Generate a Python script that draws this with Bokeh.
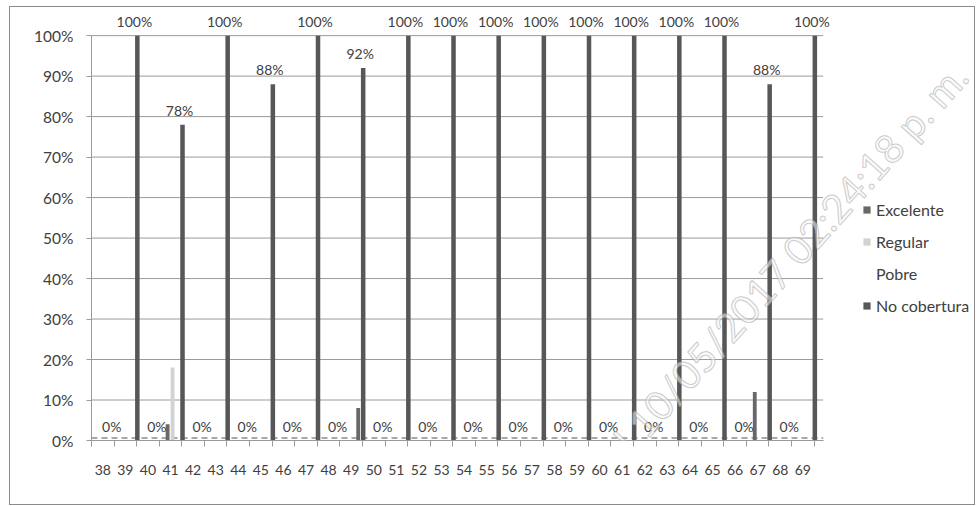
import numpy as np
from bokeh.plotting import figure
from bokeh.models import (ColumnDataSource, FixedTicker, PrintfTickFormatter, LabelSet,
                          Legend, LegendItem, Label, Range1d)
from bokeh.core.properties import value
from bokeh.embed import file_html
from bokeh.resources import INLINE

# ---------------- data ----------------
categories = [str(c) for c in range(38, 70)]
excelente = [0, 0, 0, 4, 0, 0, 0, 0, 0, 0, 0, 0, 0, 0, 0, 0,
             0, 0, 0, 0, 0, 0, 0, 0, 0, 0, 0, 0, 0, 12, 0, 0]
regular = [0, 0, 0, 18, 0, 0, 0, 0, 0, 0, 0, 0, 0, 0, 0, 0,
           0, 0, 0, 0, 0, 0, 0, 0, 0, 0, 0, 0, 0, 0, 0, 0]
pobre = [0, 0, 0, 0, 0, 0, 0, 0, 0, 0, 0, 8, 0, 0, 0, 0,
         0, 0, 0, 0, 0, 0, 0, 0, 0, 0, 0, 0, 0, 0, 0, 0]
no_cobertura = [0, 100, 0, 78, 0, 100, 0, 88, 0, 100, 0, 92, 0, 100, 0, 100,
                0, 100, 0, 100, 0, 100, 0, 100, 0, 100, 0, 100, 0, 88, 0, 100]
series_names = ["Excelente", "Regular", "Pobre", "No cobertura"]
y_ticks = [0, 10, 20, 30, 40, 50, 60, 70, 80, 90, 100]
watermark = "arel 10/05/2017 02:24:18 p. m."

# ---------------- style ----------------
FONT = "Lato"
TXT = "#404040"
offsets = {"Excelente": -0.13, "Regular": 0.09, "Pobre": 0.31, "No cobertura": 0.53}
colors = {"Excelente": "#686868", "Regular": "#d2d2d2", "Pobre": "#686868", "No cobertura": "#575757"}
widths = {"Excelente": 0.17, "Regular": 0.17, "Pobre": 0.17, "No cobertura": 0.2}

n = len(categories)
centers = np.arange(n) + 0.5
boundaries = list(np.arange(n + 1).astype(float))
x_end = n + 0.4

W, H = 966, 499
p = figure(width=W, height=H, output_backend="svg", toolbar_location=None,
           x_range=Range1d(0, 39.1), y_range=Range1d(0, 106.7),
           min_border_left=81, min_border_right=2, min_border_top=1,
           min_border_bottom=66)
p.outline_line_color = None
p.background_fill_color = "white"
p.border_fill_color = "white"
p.styles = {"margin-left": "9px", "margin-top": "6px", "border": "1px solid #8a8a8a"}

# grid lines (only across the plotting area)
p.xgrid.grid_line_color = None
p.ygrid.grid_line_color = None
p.segment(x0=[0] * len(y_ticks), x1=[x_end] * len(y_ticks), y0=y_ticks, y1=y_ticks,
          line_color="#9a9a9a", line_width=1)

# axes
p.yaxis.ticker = FixedTicker(ticks=y_ticks)
p.yaxis.bounds = (0, 100)
p.yaxis.formatter = PrintfTickFormatter(format="%d%%")
p.yaxis.axis_line_color = "#9a9a9a"
p.yaxis.major_tick_line_color = "#9a9a9a"
p.yaxis.major_tick_out = 5
p.yaxis.major_tick_in = 0
p.yaxis.minor_tick_line_color = None
p.yaxis.major_label_standoff = 13
p.yaxis.major_label_text_font = FONT
p.yaxis.major_label_text_font_size = "15.5px"
p.yaxis.major_label_text_color = TXT

p.xaxis.ticker = FixedTicker(ticks=list(centers), minor_ticks=boundaries)
p.xaxis.bounds = (0, x_end)
p.xaxis.major_label_overrides = {float(c): lab for c, lab in zip(centers, categories)}
p.xaxis.axis_line_color = "#9a9a9a"
p.xaxis.major_tick_line_color = None
p.xaxis.minor_tick_line_color = "#9a9a9a"
p.xaxis.minor_tick_out = 6
p.xaxis.minor_tick_in = 0
p.xaxis.major_label_standoff = 18
p.xaxis.major_label_text_font = FONT
p.xaxis.major_label_text_font_size = "14px"
p.xaxis.major_label_text_color = TXT

# 3D floor dashes at the base
p.line(x=[0, x_end], y=[0.6, 0.6], line_color="#a8a8a8", line_width=2, line_dash="6 4")

values = {"Excelente": excelente, "Regular": regular, "Pobre": pobre, "No cobertura": no_cobertura}
renderers = {}
for name in series_names:
    src = ColumnDataSource(dict(x=centers + offsets[name], top=values[name]))
    r = p.vbar(x="x", top="top", width=widths[name], bottom=0, source=src,
               fill_color=colors[name], line_color=None)
    renderers[name] = r

# legend swatch for "Pobre" is blank in the original
pobre_swatch = p.vbar(x=[], top=[], width=0.1, fill_color="white", line_color=None)

# data labels for No cobertura
lab_src = ColumnDataSource(dict(x=centers + offsets["No cobertura"], y=no_cobertura,
                                text=[f"{v}%" for v in no_cobertura]))
labels = LabelSet(x="x", y="y", text="text", source=lab_src, x_offset=-3, y_offset=6,
                  text_align="center", text_baseline="bottom", text_font=value(FONT),
                  text_font_size="14px", text_color=TXT)
p.add_layout(labels)

wm = Label(x=512, y=-62, x_units="screen", y_units="screen", text=watermark,
           angle=0.84, text_font=FONT, text_font_size="40px", text_color="#f6f6f6",
           text_alpha=0.55, text_outline_color="#a0a0a0")
p.add_layout(wm)

legend = Legend(items=[
    LegendItem(label="Excelente", renderers=[renderers["Excelente"]]),
    LegendItem(label="Regular", renderers=[renderers["Regular"]]),
    LegendItem(label="Pobre", renderers=[pobre_swatch]),
    LegendItem(label="No cobertura", renderers=[renderers["No cobertura"]]),
], location=(771, 125))
legend.background_fill_alpha = 0
legend.border_line_color = None
legend.padding = 0
legend.margin = 0
legend.glyph_width = 9
legend.glyph_height = 9
legend.label_standoff = 5
legend.label_height = 14
legend.spacing = 13
legend.label_text_font = FONT
legend.label_text_font_size = "16px"
legend.label_text_color = TXT
p.add_layout(legend, "center")

open("out.html", "w").write(file_html(p, INLINE))
